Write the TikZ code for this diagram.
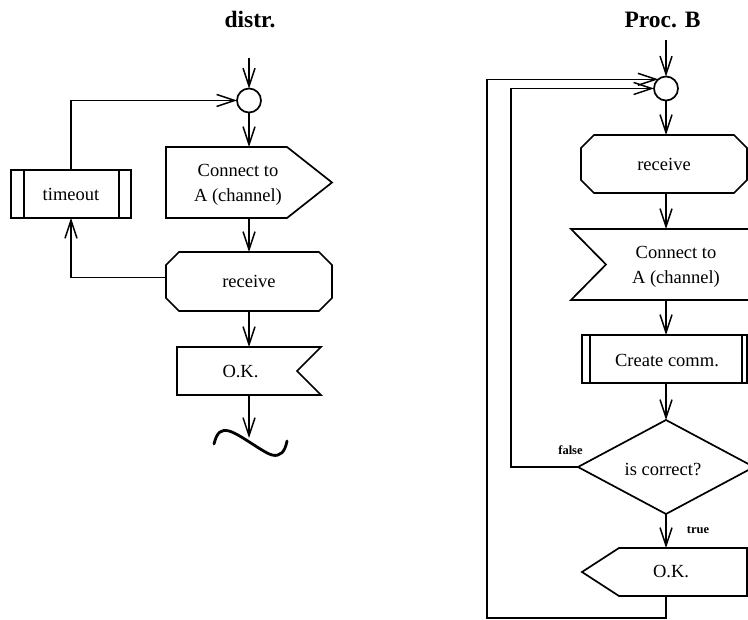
\documentclass[tikz,border=0pt]{standalone}
\usepackage{fontspec}
\setmainfont{Liberation Serif}
\usetikzlibrary{arrows.meta,calc}
\newcommand{\boxfont}{\fontsize{18.5}{25}\selectfont}
\newcommand{\titlefont}{\fontsize{23.5}{28}\selectfont\bfseries}
\newcommand{\tagfont}{\fontsize{12.5}{15}\selectfont\bfseries}
\begin{document}
\begin{tikzpicture}[x=1pt,y=-1pt,
  outline/.style={line width=1.7pt, line join=miter},
  frame/.style={rectangle, draw=none, inner sep=0pt, outer sep=0pt, font=\boxfont},
  txt/.style={inner sep=0pt, font=\boxfont, align=center},
  title/.style={inner sep=0pt, font=\titlefont},
  tag/.style={inner sep=0pt, font=\tagfont},
  junction/.style={circle, draw, line width=1.7pt, minimum size=24pt, inner sep=0pt, outer sep=0pt},
  arr/.style={line width=1.6pt, -{Straight Barb[length=18pt,width=12pt,line width=1.5pt]}},
  tilde/.style={line width=2.8pt, line cap=round}]
\useasboundingbox (0,0) rectangle (748,620);

% ---------------- process "distr." ----------------
\node[title] (t1) at (250,20) {distr.};
\coordinate (in1) at (249,58);
\node[junction] (c1) at (249,100.5) {};
\node[frame, minimum width=166pt, minimum height=71pt] (conA) at (249,182.5) {};
\node[txt] (conAt) at (238,185) {Connect to\\A (channel)};
\node[frame, minimum width=166pt, minimum height=59pt] (rcv1) at (249,281.5) {receive};
\node[frame, minimum width=144pt, minimum height=48pt] (ok1) at (249,371) {};
\node[txt] (ok1t) at (240.5,372) {O.K.};
\node[frame, minimum width=120pt, minimum height=48pt] (tm) at (71,194) {timeout};
\coordinate (stop1) at (249,438);

% output signal, pointing right
\draw[outline] (conA.north west) -- ($(conA.north east)+(-45,0)$) -- (conA.east)
  -- ($(conA.south east)+(-45,0)$) -- (conA.south west) -- cycle;
% input box with chamfered corners
\draw[outline] ($(rcv1.north west)+(13,0)$) -- ($(rcv1.north east)+(-13,0)$)
  -- ($(rcv1.north east)+(0,13)$) -- ($(rcv1.south east)+(0,-13)$)
  -- ($(rcv1.south east)+(-13,0)$) -- ($(rcv1.south west)+(13,0)$)
  -- ($(rcv1.south west)+(0,-13)$) -- ($(rcv1.north west)+(0,13)$) -- cycle;
% input signal, notch on the right
\draw[outline] (ok1.north west) -- (ok1.north east) -- ($(ok1.east)+(-24,0)$)
  -- (ok1.south east) -- (ok1.south west) -- cycle;
% procedure call box
\draw[outline] (tm.north west) rectangle (tm.south east);
\draw[outline] ($(tm.north west)+(13,0)$) -- ($(tm.south west)+(13,0)$);
\draw[outline] ($(tm.north east)+(-12,0)$) -- ($(tm.south east)+(-12,0)$);

\draw[arr] (in1) -- (c1);
\draw[arr] (c1) -- (conA);
\draw[arr] (conA) -- (rcv1);
\draw[arr] (rcv1) -- (ok1);
\draw[arr] (ok1) -- (stop1);
\draw[arr] ($(rcv1.west)+(0,-4)$) -| (tm.south);
\draw[arr] (tm.north) |- (c1.west);
% stop symbol
\draw[tilde] (214,444) .. controls (217,432) and (221,429) .. (229,431)
  .. controls (240,434) and (262,452) .. (272,455)
  .. controls (280,457) and (285,452) .. (287,441);

% ---------------- process "Proc. B" ----------------
\node[title] (t2) at (662.5,20) {Proc. B};
\coordinate (in2) at (666,40);
\node[junction] (c2) at (666,88.5) {};
\node[frame, minimum width=166pt, minimum height=58pt] (rcv2) at (664,164) {receive};
\node[frame, minimum width=190pt, minimum height=71pt] (con2) at (666,264.5) {};
\node[txt] (con2t) at (676,267) {Connect to\\A (channel)};
\node[frame, minimum width=165pt, minimum height=48pt] (cc) at (664.5,359) {};
\node[txt] (cct) at (667,361) {Create comm.};
\node[frame, minimum width=176pt, minimum height=94pt] (dia) at (666,467) {};
\node[txt] (diat) at (663,470) {is correct?};
\node[frame, minimum width=165pt, minimum height=48pt] (ok2) at (664.5,572) {};
\node[txt] (ok2t) at (671,572) {O.K.};
\node[tag] (lf) at (570.5,450) {false};
\node[tag] (lt) at (698,530) {true};
\coordinate (jin) at (511,0);
\coordinate (jout) at (487,618);

\draw[outline] ($(rcv2.north west)+(13,0)$) -- ($(rcv2.north east)+(-13,0)$)
  -- ($(rcv2.north east)+(0,13)$) -- ($(rcv2.south east)+(0,-13)$)
  -- ($(rcv2.south east)+(-13,0)$) -- ($(rcv2.south west)+(13,0)$)
  -- ($(rcv2.south west)+(0,-13)$) -- ($(rcv2.north west)+(0,13)$) -- cycle;
% output signal, notch on the left
\draw[outline] (con2.north west) -- (con2.north east) -- (con2.south east)
  -- (con2.south west) -- ($(con2.west)+(35,0)$) -- cycle;
\draw[outline] (cc.north west) rectangle (cc.south east);
\draw[outline] ($(cc.north west)+(8,0)$) -- ($(cc.south west)+(8,0)$);
\draw[outline] ($(cc.north east)+(-5,0)$) -- ($(cc.south east)+(-5,0)$);
\draw[outline] (dia.north) -- (dia.east) -- (dia.south) -- (dia.west) -- cycle;
% output signal, pointing left
\draw[outline] ($(ok2.north west)+(37,0)$) -- (ok2.north east) -- (ok2.south east)
  -- ($(ok2.south west)+(37,0)$) -- (ok2.west) -- cycle;

\draw[arr] (in2) -- (c2);
\draw[arr] (c2.south) -- (c2.south |- rcv2.north);
\draw[arr] (c2.south |- rcv2.south) -- (c2.south |- con2.north);
\draw[arr] (con2.south) -- (c2.south |- cc.north);
\draw[arr] (c2.south |- cc.south) -- (dia.north);
\draw[arr] (dia.south) -- (dia.south |- ok2.north);
\draw[arr] (dia.west) -| (jin |- c2.west) -- (c2.west);
\draw[arr] (c2.south |- ok2.south) |- (jout) |- (c2.130);
\end{tikzpicture}
\end{document}
